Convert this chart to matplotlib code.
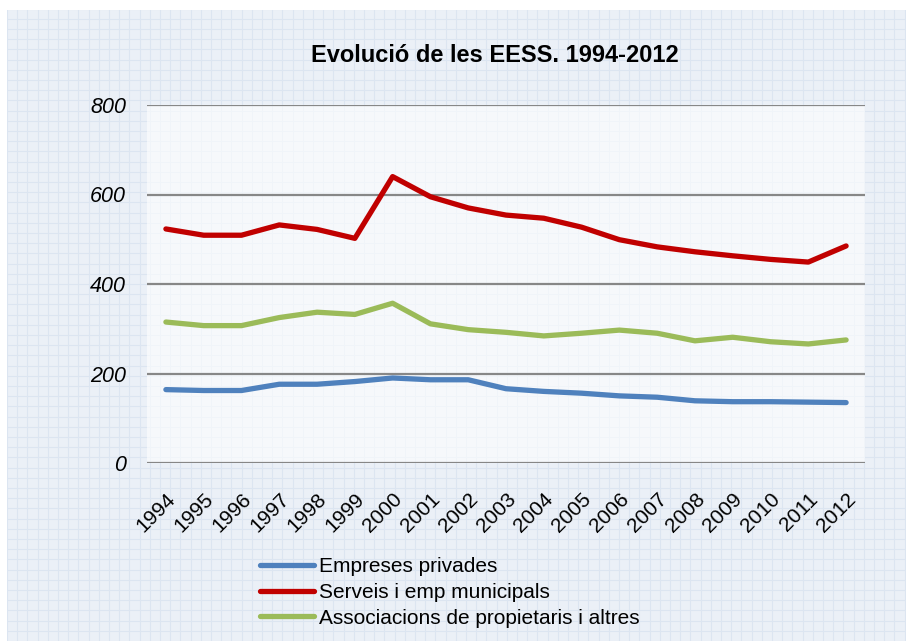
import numpy as np
import matplotlib.pyplot as plt

years = [str(y) for y in range(1994, 2013)]
empreses_privades = [164, 162, 162, 176, 176, 182, 190, 186, 186, 166, 160, 156,
                     150, 147, 139, 137, 137, 136, 135]
serveis_municipals = [523, 509, 509, 532, 522, 502, 640, 595, 570, 554, 547, 527,
                      499, 483, 472, 463, 455, 449, 485]
associacions = [315, 307, 307, 325, 337, 332, 357, 311, 298, 292, 284, 290,
                297, 290, 273, 281, 271, 266, 275]

labels = ['Empreses privades', 'Serveis i emp municipals',
          'Associacions de propietaris i altres']
colors = ['#4f81bd', '#c00000', '#9bbb59']

W, H = 906, 641
plt.rcParams['font.family'] = ['Liberation Sans', 'DejaVu Sans']

fig = plt.figure(figsize=(W / 100, H / 100), dpi=100)
fig.patch.set_facecolor('white')

# graph-paper background
bg = fig.add_axes([7 / W, 0, (W - 7) / W, (H - 10) / H])
bg.set_xlim(0, W - 7)
bg.set_ylim(0, H - 10)
bg.set_facecolor('#ebf0f7')
for gx in np.arange(0, W, 10.2):
    bg.axvline(gx, color='#dce5f1', lw=0.8)
for gy in np.arange(0, H, 10.2):
    bg.axhline(gy, color='#dce5f1', lw=0.8)
bg.set_xticks([])
bg.set_yticks([])
for s in bg.spines.values():
    s.set_visible(False)

left, right, top, bottom = 147, 865, 105, 463
ax = fig.add_axes([left / W, 1 - bottom / H, (right - left) / W, (bottom - top) / H])
ax.set_facecolor((1, 1, 1, 0.6))

x = np.arange(len(years))
series = [empreses_privades, serveis_municipals, associacions]
for vals, lab, col in zip(series, labels, colors):
    ax.plot(x, vals, color=col, lw=3.8, label=lab, solid_capstyle='round',
            solid_joinstyle='round')

ax.set_xlim(-0.5, len(years) - 0.5)
ax.set_ylim(0, 800)
ax.set_yticks([0, 200, 400, 600, 800])
ax.set_yticklabels(['0', '200', '400', '600', '800'], fontstyle='italic', fontsize=15.5)
ax.set_xticks(x)
ax.set_xticklabels(years, rotation=45, ha='right', rotation_mode='anchor', fontsize=15)
ax.tick_params(axis='y', length=0, pad=15)
ax.tick_params(axis='x', length=0, pad=19)
ax.grid(axis='y', color='#878787', lw=1.6)
ax.set_axisbelow(True)
for s in ax.spines.values():
    s.set_visible(False)

fig.text(495 / W, 1 - 55 / H, 'Evolució de les EESS. 1994-2012', ha='center',
         va='center', fontsize=17, fontweight='bold')

fig.legend(loc='upper left', bbox_to_anchor=(260 / W, 1 - 557 / H), frameon=False,
           fontsize=15, handlelength=2.6, handletextpad=0.25, labelspacing=0.33,
           borderpad=0, borderaxespad=0)

fig.savefig('out.png', dpi=100)
